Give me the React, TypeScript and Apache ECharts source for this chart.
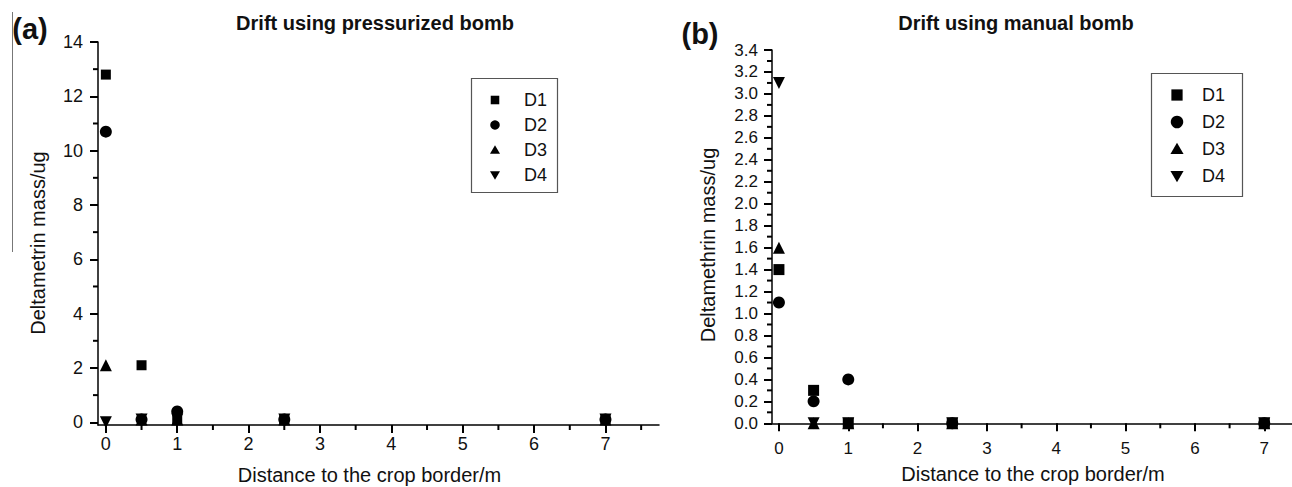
import React, { useEffect, useRef } from "react";
import * as echarts from "echarts";

// ---- data ----
const seriesNames = ["D1", "D2", "D3", "D4"];
const distances = [0, 0.5, 1, 2.5, 7];

// (a) pressurized bomb
const pressD1 = [12.8, 2.1, 0.1, 0.1, 0.1];
const pressD2 = [10.7, 0.1, 0.4, 0.1, 0.1];
const pressD3 = [2.1, 0.1, 0.1, 0.1, 0.1];
const pressD4 = [0, 0.1, 0.1, 0.1, 0.1];

// (b) manual bomb
const manualD1 = [1.4, 0.3, 0, 0, 0];
const manualD2 = [1.1, 0.2, 0.4, 0, 0];
const manualD3 = [1.6, 0, 0, 0, 0];
const manualD4 = [3.1, 0, 0, 0, 0];

// ticks
const xMajorTicks = [0, 1, 2, 3, 4, 5, 6, 7];
const xMinorTicksA = [0.5, 1.5, 2.5, 3.5, 4.5, 5.5, 6.5, 7.5];
const xMinorTicksB = [0.5, 1.5, 2.5, 3.5, 4.5, 5.5, 6.5];
const pressYTicks = [0, 2, 4, 6, 8, 10, 12, 14];
const pressYMinor = [1, 3, 5, 7, 9, 11, 13];
const manualYTicks = [0, 0.2, 0.4, 0.6, 0.8, 1.0, 1.2, 1.4, 1.6, 1.8, 2.0, 2.2, 2.4, 2.6, 2.8, 3.0, 3.2, 3.4];
const manualYMinor = [0.1, 0.3, 0.5, 0.7, 0.9, 1.1, 1.3, 1.5, 1.7, 1.9, 2.1, 2.3, 2.5, 2.7, 2.9, 3.1, 3.3];

const titleA = "Drift using pressurized bomb";
const titleB = "Drift using manual bomb";
const xName = "Distance to the crop border/m";
const yNameA = "Deltametrin mass/ug";
const yNameB = "Deltamethrin mass/ug";

const FONT = "'Liberation Sans', Arial, Helvetica, sans-serif";
const INK = "#111";
const LINE = "#000";
const DOWN_TRI = "path://M0,0L10,0L5,10Z";
const symbols = ["rect", "circle", "triangle", DOWN_TRI];

// axis ranges
const A_X = [-0.11, 7.75];
const A_Y = [-0.1, 14];
const B_X = [-0.1, 7.4];
const B_Y = [0, 3.4];

function mainAxis(gridIndex: number, range: number[], labels: number[], margin: number, fontSize: number, fmt?: (v: number) => string) {
  return {
    type: "value",
    gridIndex,
    min: range[0],
    max: range[1],
    axisLine: { show: true, onZero: false, lineStyle: { color: LINE, width: 1.5 } },
    axisTick: { show: true, length: 8, customValues: labels, lineStyle: { color: LINE, width: 2 } },
    axisLabel: {
      show: true,
      customValues: labels,
      margin,
      fontSize,
      color: INK,
      fontFamily: FONT,
      formatter: fmt ? (v: number) => fmt(v) : (v: number) => String(v),
    },
    splitLine: { show: false },
  };
}

// minor tick marks drawn through the axes' own scales
function tickSeries(axisIdx: number, vals: number[], len: number, dir: "x" | "y", anchor: number) {
  return {
    type: "custom",
    xAxisIndex: axisIdx,
    yAxisIndex: axisIdx,
    z: 5,
    data: vals.map((v) => (dir === "x" ? [v, anchor] : [anchor, v])),
    renderItem: (_p: any, api: any) => {
      const p = api.coord([api.value(0), api.value(1)]);
      return dir === "x"
        ? { type: "line", shape: { x1: p[0], y1: p[1], x2: p[0], y2: p[1] + len }, style: { stroke: LINE, lineWidth: 2 } }
        : { type: "line", shape: { x1: p[0], y1: p[1], x2: p[0] - len, y2: p[1] }, style: { stroke: LINE, lineWidth: 2 } };
    },
  };
}

function buildSeries() {
  const press = [pressD1, pressD2, pressD3, pressD4];
  const manual = [manualD1, manualD2, manualD3, manualD4];
  const out: any[] = [];
  out.push(tickSeries(0, xMinorTicksA, 5, "x", A_Y[0]));
  out.push(tickSeries(0, pressYMinor, 5, "y", A_X[0]));
  out.push(tickSeries(1, xMinorTicksB, 5, "x", B_Y[0]));
  out.push(tickSeries(1, manualYMinor, 5, "y", B_X[0]));
  seriesNames.forEach((name, k) => {
    out.push({
      type: "scatter",
      name,
      xAxisIndex: 0,
      yAxisIndex: 0,
      symbol: symbols[k],
      symbolSize: k === 0 ? 10 : 12,
      itemStyle: { color: "#000", opacity: 1 },
      z: 6,
      data: distances.map((d, i) => [d, press[k][i]]),
    });
  });
  seriesNames.forEach((name, k) => {
    out.push({
      type: "scatter",
      name,
      xAxisIndex: 1,
      yAxisIndex: 1,
      symbol: symbols[k],
      symbolSize: k === 0 ? 11 : 12,
      itemStyle: { color: "#000", opacity: 1 },
      z: 6,
      data: distances.map((d, i) => [d, manual[k][i]]),
    });
  });
  return out;
}

// legend box drawn as graphic: box, marker shapes, names
function legendGraphic(box: number[], mx: number, tx: number, ys: number[], s: number) {
  const h = s / 2;
  const els: any[] = [
    { type: "rect", shape: { x: box[0] + 0.5, y: box[1] + 0.5, width: box[2], height: box[3] }, style: { fill: "#fff", stroke: "#555", lineWidth: 1.2 } },
  ];
  const fill = { fill: "#000" };
  ys.forEach((y, k) => {
    if (k === 0) els.push({ type: "rect", shape: { x: mx - h * 0.9, y: y - h * 0.9, width: s * 0.9, height: s * 0.9 }, style: fill });
    if (k === 1) els.push({ type: "circle", shape: { cx: mx, cy: y, r: h }, style: fill });
    if (k === 2) els.push({ type: "polygon", shape: { points: [[mx, y - h], [mx + h * 1.05, y + h * 0.8], [mx - h * 1.05, y + h * 0.8]] }, style: fill });
    if (k === 3) els.push({ type: "polygon", shape: { points: [[mx - h * 1.05, y - h * 0.8], [mx + h * 1.05, y - h * 0.8], [mx, y + h]] }, style: fill });
    els.push({ type: "text", x: tx, y, style: { text: seriesNames[k], fontSize: 18, fontFamily: FONT, fill: INK, align: "left", verticalAlign: "middle" } });
  });
  return els;
}

export default function App() {
  const ref = useRef<HTMLDivElement>(null);
  useEffect(() => {
    if (!ref.current) return;
    const chart = echarts.init(ref.current, null, { renderer: "svg" });
    const graphic: any[] = [
      { type: "line", shape: { x1: 12.5, y1: 12, x2: 12.5, y2: 252 }, style: { stroke: "#777", lineWidth: 1 } },
      { type: "text", x: 30, y: 29, style: { text: "(a)", fontSize: 29, fontWeight: "bold", fontFamily: FONT, fill: INK, align: "center", verticalAlign: "middle" } },
      { type: "text", x: 700, y: 34, style: { text: "(b)", fontSize: 29, fontWeight: "bold", fontFamily: FONT, fill: INK, align: "center", verticalAlign: "middle" } },
      { type: "text", x: 375, y: 23, style: { text: titleA, fontSize: 20, fontWeight: "bold", fontFamily: FONT, fill: INK, align: "center", verticalAlign: "middle" } },
      { type: "text", x: 1016, y: 23, style: { text: titleB, fontSize: 20, fontWeight: "bold", fontFamily: FONT, fill: INK, align: "center", verticalAlign: "middle" } },
      { type: "text", x: 369.5, y: 475, style: { text: xName, fontSize: 20, fontFamily: FONT, fill: INK, align: "center", verticalAlign: "middle" } },
      { type: "text", x: 1033, y: 474, style: { text: xName, fontSize: 20, fontFamily: FONT, fill: INK, align: "center", verticalAlign: "middle" } },
      { type: "text", x: 38, y: 243, rotation: Math.PI / 2, style: { text: yNameA, fontSize: 20, fontFamily: FONT, fill: INK, align: "center", verticalAlign: "middle" } },
      { type: "text", x: 708, y: 245, rotation: Math.PI / 2, style: { text: yNameB, fontSize: 20, fontFamily: FONT, fill: INK, align: "center", verticalAlign: "middle" } },
      ...legendGraphic([471, 78, 86, 114], 495, 524, [100, 125, 150, 175], 9.5),
      ...legendGraphic([1151, 73, 91, 123], 1177, 1202, [95, 122, 149, 176], 12.5),
    ];
    const option: any = {
      animation: false,
      backgroundColor: "#fff",
      grid: [
        { left: 98, top: 42, width: 561, height: 383 },
        { left: 772, top: 50, width: 520, height: 373.3 },
      ],
      xAxis: [
        { ...mainAxis(0, A_X, xMajorTicks, 10, 18), position: "bottom" },
        { ...mainAxis(1, B_X, xMajorTicks, 17, 17), position: "bottom" },
      ],
      yAxis: [
        { ...mainAxis(0, A_Y, pressYTicks, 15, 18), position: "left" },
        { ...mainAxis(1, B_Y, manualYTicks, 14, 17, (v: number) => v.toFixed(1)), position: "left" },
      ],
      graphic,
      series: buildSeries(),
    };
    chart.setOption(option);
    return () => chart.dispose();
  }, []);
  return <div ref={ref} style={{ position: "absolute", left: 0, top: 0, width: 1292, height: 487 }} />;
}
